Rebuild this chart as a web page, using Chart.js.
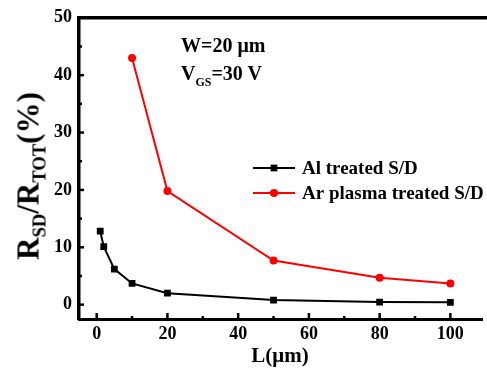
<!DOCTYPE html>
<html><head><meta charset="utf-8">
<script src="https://cdn.jsdelivr.net/npm/chart.js@4.4.0/dist/chart.umd.min.js"></script>
<style>
html,body{margin:0;padding:0;background:#fff;overflow:hidden;}
#wrap{position:relative;width:487px;height:370px;background:#fff;}
canvas{position:absolute;left:0;top:0;}
.t{position:absolute;font-family:'Liberation Serif','Times New Roman',serif;font-weight:bold;color:#000;white-space:nowrap;line-height:1;}
.t .s{position:relative;font-size:60%;}
</style></head><body>
<div id="wrap">
<canvas id="c" width="487" height="370"></canvas>
<div class="t" id="ytitle" style="font-size:31px;left:28px;top:176px;transform:translate(-50%,-50%) rotate(-90deg);">R<span class="s" style="top:7px">SD</span>/R<span class="s" style="top:7px">TOT</span>(%)</div>
<div class="t" id="xtitle" style="font-size:21px;left:280px;top:345px;transform:translateX(-50%);">L(μm)</div>
<div class="t" style="font-size:20px;left:181px;top:35px;">W=20 μm</div>
<div class="t" style="font-size:20px;left:181px;top:63px;">V<span class="s" style="top:6px">GS</span>=30 V</div>
</div>
<script>
// ---- data ----
const alLengths = [1, 2, 5, 10, 20, 50, 80, 100];
const alRatio   = [12.8, 10.1, 6.2, 3.7, 2.0, 0.8, 0.45, 0.4];
const arLengths = [10, 20, 50, 80, 100];
const arRatio   = [43.0, 19.8, 7.7, 4.7, 3.7];
const seriesLabels = ['Al treated S/D', 'Ar plasma treated S/D'];
const xTickValues = [0, 20, 40, 60, 80, 100];
const yTickValues = [0, 10, 20, 30, 40, 50];

const FONT = "'Liberation Serif','Times New Roman',serif";

const toPts = (xs, ys) => xs.map((x, i) => ({x: x, y: ys[i]}));

const frameAndTicks = {
  id: 'frameAndTicks',
  afterDraw(chart) {
    const ctx = chart.ctx, a = chart.chartArea;
    const xs = chart.scales.x, ys = chart.scales.y;
    ctx.save();
    ctx.strokeStyle = '#000';
    // top frame line
    ctx.lineWidth = 3.5;
    ctx.beginPath();
    ctx.moveTo(a.left - 1.5, a.top);
    ctx.lineTo(chart.width, a.top);
    ctx.stroke();
    // inward ticks, x
    ctx.lineWidth = 2.5;
    for (let v = 0; v <= 100; v += 10) {
      const px = xs.getPixelForValue(v);
      const len = (v % 20 === 0) ? 6 : 3;
      ctx.beginPath();
      ctx.moveTo(px, a.bottom);
      ctx.lineTo(px, a.bottom - len);
      ctx.stroke();
    }
    // inward ticks, y
    for (let v = 0; v <= 45; v += 5) {
      const py = ys.getPixelForValue(v);
      const len = (v % 10 === 0) ? 5 : 3;
      ctx.beginPath();
      ctx.moveTo(a.left, py);
      ctx.lineTo(a.left + len, py);
      ctx.stroke();
    }
    // legend
    const entries = chart.data.datasets;
    const lx0 = 253, lx1 = 295, ly = [168, 193], tx = 302;
    ctx.font = "bold 19px " + FONT;
    ctx.textBaseline = 'middle';
    ctx.textAlign = 'left';
    entries.forEach((ds, i) => {
      ctx.strokeStyle = ds.borderColor;
      ctx.lineWidth = ds.borderWidth;
      ctx.beginPath();
      ctx.moveTo(lx0, ly[i]);
      ctx.lineTo(lx1, ly[i]);
      ctx.stroke();
      ctx.fillStyle = ds.pointBackgroundColor;
      ctx.strokeStyle = ds.pointBackgroundColor;
      Chart.helpers.drawPoint(ctx, {pointStyle: ds.pointStyle, radius: ds.pointRadius, borderWidth: 0}, (lx0 + lx1) / 2, ly[i]);
      ctx.fillStyle = '#000';
      ctx.fillText(ds.label, tx, ly[i] + 1);
    });
    ctx.restore();
  }
};

new Chart(document.getElementById('c'), {
  type: 'scatter',
  data: {
    datasets: [
      {
        label: seriesLabels[0],
        data: toPts(alLengths, alRatio),
        showLine: true,
        borderColor: '#000',
        backgroundColor: '#000',
        borderWidth: 2,
        pointStyle: 'rect',
        pointRadius: 4.8,
        pointBorderWidth: 0,
        pointBackgroundColor: '#000'
      },
      {
        label: seriesLabels[1],
        data: toPts(arLengths, arRatio),
        showLine: true,
        borderColor: '#ff0000',
        backgroundColor: '#ff0000',
        borderWidth: 2,
        pointStyle: 'circle',
        pointRadius: 4,
        pointBorderWidth: 0,
        pointBackgroundColor: '#ff0000'
      }
    ]
  },
  options: {
    responsive: false,
    animation: false,
    layout: {padding: {top: 15, left: 0, right: 0, bottom: 0}},
    plugins: {legend: {display: false}, tooltip: {enabled: false}, title: {display: false}},
    scales: {
      x: {
        type: 'linear',
        min: -5, max: 109,
        grid: {display: false, drawTicks: false},
        border: {display: true, width: 3, color: '#000'},
        ticks: {color: '#000', padding: 5, font: {family: FONT, size: 18, weight: 'bold'}, maxRotation: 0},
        afterBuildTicks: s => { s.ticks = xTickValues.map(v => ({value: v})); },
        afterFit: s => { s.height = 51; }
      },
      y: {
        type: 'linear',
        min: -2.5, max: 50,
        grid: {display: false, drawTicks: false},
        border: {display: true, width: 3.5, color: '#000'},
        ticks: {color: '#000', padding: 7, font: {family: FONT, size: 18, weight: 'bold'}},
        afterBuildTicks: s => { s.ticks = yTickValues.map(v => ({value: v})); },
        afterFit: s => { s.width = 79; }
      }
    }
  },
  plugins: [frameAndTicks]
});
</script>
</body></html>
